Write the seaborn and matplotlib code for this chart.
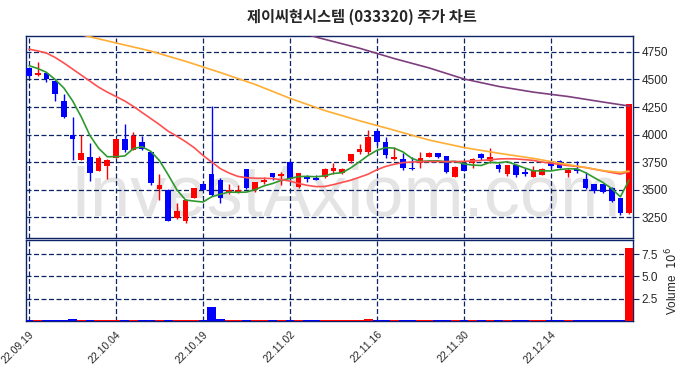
import numpy as np
import pandas as pd
import matplotlib
matplotlib.use("Agg")
import matplotlib.pyplot as plt
import seaborn as sns

# ---------------- data ----------------
title = "제이씨현시스템 (033320) 주가 차트"
tick_labels = ["22.09.19", "22.10.04", "22.10.19", "22.11.02", "22.11.16", "22.11.30", "22.12.14"]
tick_pos = [0, 10, 20, 30, 40, 50, 60]

opens = [4600, 4545, 4555, 4490, 4305, 4000, 3770, 3795, 3665, 3710,
         3790, 3960, 3860, 3930, 3840, 3507, 3500, 3240, 3215, 3425,
         3555, 3645, 3585, 3465, 3465, 3690, 3495, 3570, 3655, 3625,
         3750, 3520, 3610, 3605, 3610, 3670, 3650, 3755, 3840, 3845,
         4035, 3930, 3775, 3775, 3698, 3745, 3800, 3830, 3805, 3615,
         3740, 3745, 3825, 3760, 3725, 3645, 3725, 3660, 3610, 3630,
         3755, 3755, 3650, 3685, 3600, 3550, 3550, 3515, 3420, 3290]
highs = [4610, 4660, 4560, 4495, 4365, 4155, 4000, 3925, 3805, 3775,
         3960, 4100, 4020, 3990, 3845, 3640, 3505, 3375, 3410, 3515,
         3560, 4255, 3605, 3550, 3545, 3690, 3570, 3610, 3655, 3660,
         3755, 3655, 3630, 3630, 3695, 3740, 3695, 3820, 3915, 4040,
         4045, 3980, 3890, 3830, 3795, 3845, 3840, 3835, 3805, 3710,
         3745, 3785, 3835, 3880, 3740, 3725, 3730, 3700, 3715, 3700,
         3760, 3770, 3700, 3760, 3660, 3555, 3555, 3525, 3420, 4275]
lows = [4525, 4535, 4480, 4300, 4150, 3770, 3770, 3575, 3665, 3595,
        3785, 3840, 3860, 3860, 3540, 3405, 3210, 3235, 3200, 3420,
        3495, 3440, 3380, 3460, 3465, 3505, 3480, 3555, 3590, 3545,
        3585, 3515, 3570, 3585, 3605, 3645, 3640, 3740, 3820, 3820,
        3905, 3785, 3770, 3675, 3680, 3700, 3795, 3790, 3655, 3615,
        3665, 3700, 3770, 3745, 3660, 3620, 3615, 3620, 3610, 3630,
        3700, 3695, 3610, 3655, 3505, 3465, 3470, 3385, 3265, 3280]
closes = [4535, 4560, 4500, 4365, 4155, 3955, 3830, 3650, 3785, 3770,
          3960, 3860, 3985, 3870, 3560, 3541, 3215, 3305, 3405, 3510,
          3500, 3450, 3425, 3500, 3500, 3510, 3565, 3590, 3610, 3645,
          3595, 3650, 3600, 3588, 3690, 3700, 3685, 3820, 3870, 3975,
          3930, 3810, 3795, 3700, 3685, 3790, 3830, 3800, 3662, 3705,
          3670, 3775, 3785, 3800, 3685, 3720, 3635, 3640, 3670, 3685,
          3715, 3700, 3675, 3665, 3510, 3490, 3480, 3400, 3290, 4275]
volumes = [110, 120, 100, 130, 150, 250, 130, 140, 100, 90,
           120, 110, 100, 90, 140, 120, 150, 110, 120, 100,
           130, 1550, 220, 110, 100, 130, 90, 80, 80, 90,
           110, 100, 70, 70, 100, 90, 80, 110, 130, 250,
           150, 120, 90, 100, 80, 90, 80, 70, 100, 60,
           90, 80, 100, 90, 110, 80, 100, 90, 60, 70,
           90, 80, 70, 80, 100, 90, 100, 110, 140, 8200]  # thousands of shares

ma5 = [4625, 4600, 4565, 4500, 4423, 4307, 4161, 3991, 3875, 3798,
       3799, 3805, 3872, 3889, 3847, 3763, 3634, 3498, 3405, 3395,
       3387, 3434, 3458, 3477, 3475, 3477, 3500, 3533, 3555, 3584,
       3601, 3618, 3620, 3616, 3625, 3646, 3653, 3697, 3753, 3810,
       3856, 3881, 3876, 3842, 3784, 3756, 3760, 3761, 3753, 3757,
       3733, 3722, 3719, 3747, 3743, 3753, 3725, 3696, 3670, 3670,
       3669, 3682, 3689, 3688, 3653, 3608, 3564, 3509, 3434, 3587]
ma20 = [4775, 4760, 4740, 4700, 4650, 4595, 4540, 4485, 4430, 4385,
        4345, 4305, 4255, 4200, 4145, 4090, 4030, 3985, 3935, 3880,
        3810, 3750, 3690, 3650, 3620, 3608, 3603, 3602, 3600, 3590,
        3577, 3555, 3538, 3527, 3528, 3545, 3565, 3585, 3612, 3640,
        3680, 3710, 3730, 3745, 3750, 3753, 3754, 3754, 3754, 3754,
        3756, 3760, 3765, 3770, 3778, 3780, 3778, 3772, 3765, 3750,
        3740, 3728, 3718, 3710, 3700, 3685, 3670, 3655, 3641, 3662]
ma60_idx = [0, 7, 10, 14, 18, 22, 26, 30, 34, 38, 42, 46, 50, 54, 58, 62, 66, 68, 69]
ma60 = [5020, 4888, 4832, 4758, 4665, 4563, 4455, 4329, 4218, 4125,
        4039, 3950, 3882, 3830, 3783, 3727, 3672, 3656, 3668]
ma120_idx = [30, 33, 38, 42, 46, 50, 54, 58, 62, 66, 69]
ma120 = [4960, 4885, 4784, 4690, 4605, 4505, 4437, 4385, 4345, 4295, 4259]

# ---------------- figure ----------------
sns.set_style("white")
plt.rcParams["font.family"] = ["Liberation Sans", "DejaVu Sans", "Noto Sans CJK KR"]

W, H = 690, 378
fig = plt.figure(figsize=(6.9, 3.78), dpi=100)
ax = fig.add_axes([26 / W, 1 - 238 / H, (633 - 26) / W, (238 - 36) / H])
axv = fig.add_axes([26 / W, 1 - 321 / H, (633 - 26) / W, (321 - 240) / H], sharex=ax)

navy = "#0c2366"
up_c, dn_c = "#ff0000", "#0000ff"

df = pd.DataFrame({"idx": np.arange(len(closes)), "open": opens, "high": highs,
                   "low": lows, "close": closes, "vol": np.array(volumes) * 1000})
df["up"] = df["close"] >= df["open"]
df["color"] = np.where(df["up"], up_c, dn_c)
df["bottom"] = df[["open", "close"]].min(axis=1)
df["height"] = (df["close"] - df["open"]).abs().clip(lower=8)

# watermark
ax.text(0.526, 0.11, "InvestAxiom.com", transform=ax.transAxes, ha="center",
        va="baseline", fontsize=52, color="#e4e4e4", family="Liberation Sans", zorder=0)

# candles
ax.vlines(df["idx"], df["low"], df["high"], colors=df["color"], lw=1.0, zorder=3)
ax.bar(df["idx"], df["height"], bottom=df["bottom"], width=0.65, color=df["color"],
       zorder=4, linewidth=0)

# moving averages
sns.lineplot(x=df["idx"], y=ma5, ax=ax, color="#2e9a2e", lw=1.2, zorder=5)
sns.lineplot(x=df["idx"], y=ma20, ax=ax, color="#ff5050", lw=1.2, zorder=5)
sns.lineplot(x=ma60_idx, y=ma60, ax=ax, color="#ffad33", lw=1.2, zorder=5)
sns.lineplot(x=ma120_idx, y=ma120, ax=ax, color="#7d3f7d", lw=1.2, zorder=5)

ax.set_xlim(-0.35, 69.45)
ax.set_ylim(3060, 4895)
ax.set_yticks([3250, 3500, 3750, 4000, 4250, 4500, 4750])
ax.yaxis.tick_right()
ax.tick_params(axis="y", labelsize=8.5, length=4, color=navy, pad=2)
ax.tick_params(axis="x", labelbottom=False, length=0)
ax.set_xticks(tick_pos)
ax.set_xlabel("")
ax.set_ylabel("")
ax.grid(True, ls=(0, (4, 2)), color=navy, lw=0.9)

# volume
axv.bar(df["idx"], df["vol"], width=1.0, color=df["color"], linewidth=0, zorder=3)
axv.set_ylim(0, 9.1e6)
axv.set_yticks([2.5e6, 5e6, 7.5e6])
axv.set_yticklabels(["2.5", "5.0", "7.5"])
axv.yaxis.tick_right()
axv.yaxis.set_label_position("right")
axv.set_ylabel(r"Volume  $10^6$", fontsize=8.5, labelpad=4)
axv.tick_params(axis="y", labelsize=8.5, length=4, color=navy, pad=2)
axv.set_xticks(tick_pos)
axv.set_xticklabels(tick_labels, rotation=45, ha="right", rotation_mode="anchor", fontsize=7.5)
axv.tick_params(axis="x", length=4, color=navy, pad=2)
axv.grid(True, ls=(0, (4, 2)), color=navy, lw=0.9)

for a in (ax, axv):
    for s in a.spines.values():
        s.set_color(navy)
        s.set_linewidth(1.0)

fig.text(362 / W, 1 - 17 / H, title, ha="center", va="center", fontsize=11,
         fontweight="bold", family=["Noto Sans CJK KR", "DejaVu Sans"])

fig.savefig("out.png", dpi=100)
